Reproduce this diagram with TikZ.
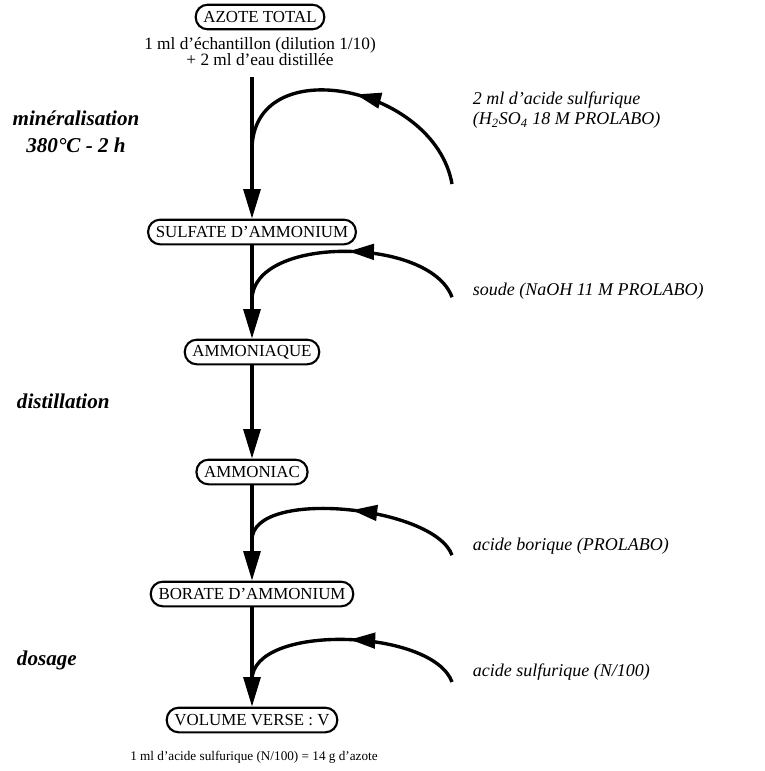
\documentclass[tikz,border=0pt]{standalone}
\usepackage{fontspec}
\setmainfont{Liberation Serif}
\usetikzlibrary{positioning, arrows.meta, decorations.markings}

\begin{document}
\begin{tikzpicture}[>={Triangle[length=21pt, width=12pt]},
        etat/.style={draw, line width=1.5pt, rounded corners=8.5pt, minimum height=17.5pt,
                     inner xsep=5.5pt, font=\fontsize{12}{14}\selectfont},
        flux/.style={->, line width=2.4pt},
        ajout/.style={line width=2.4pt, postaction={decorate},
                      decoration={markings, mark=at position 0.5 with {\arrow{Triangle[length=18pt, width=11pt]}}}},
        reactif/.style={anchor=west, align=left, font=\fontsize{12.8}{14.5}\selectfont\itshape},
        etape/.style={align=center, font=\fontsize{15}{19}\selectfont\bfseries\itshape},
        note/.style={align=center, font=\fontsize{12.3}{12}\selectfont}]
        \useasboundingbox (0, 0) rectangle (19.1, -19.275);

        \node[etat] (azote)  at (6.5, -0.425) {AZOTE TOTAL};
        \node[note] (echant) at (6.5, -1.29)
              {1 ml d'échantillon (dilution 1/10)\\+ 2 ml d'eau distillée};
        \node[etat] (sulf)   at (6.3, -5.8)   {SULFATE D'AMMONIUM};
        \node[etat] (aque)   at (6.3, -8.8)   {AMMONIAQUE};
        \node[etat] (ammc)   at (6.3, -11.8)  {AMMONIAC};
        \node[etat] (borate) at (6.3, -14.85) {BORATE D'AMMONIUM};
        \node[etat] (volume) at (6.3, -18.0)  {VOLUME VERSE : V};
        \node[note, font=\fontsize{9.4}{12}\selectfont] (equiv) at (6.35, -18.93)
              {1 ml d'acide sulfurique (N/100) = 14 g d'azote};

        % etapes
        \node[etape] (miner)  at (1.9, -3.3)   {minéralisation\\380°C - 2 h};
        \node[etape, anchor=west] (distil) at (0.3, -10.03) {distillation};
        \node[etape, anchor=west] (dosage) at (0.3, -16.5)  {dosage};

        % reactifs
        \node[reactif] (h2so4) at (11.7, -2.75)
              {2 ml d'acide sulfurique\\(H\textsubscript{2}SO\textsubscript{4} 18 M PROLABO)};
        \node[reactif] (soude)  at (11.7, -7.28)  {soude (NaOH 11 M PROLABO)};
        \node[reactif] (borique) at (11.7, -13.65) {acide borique (PROLABO)};
        \node[reactif] (titrant) at (11.7, -16.8)  {acide sulfurique (N/100)};

        \coordinate (s1) at (11.3, -4.6);
        \coordinate (j1) at (6.3, -3.75);
        \coordinate (s2) at (11.3, -7.43);
        \coordinate (j2) at (6.3, -7.5);
        \coordinate (s3) at (11.3, -13.88);
        \coordinate (j3) at (6.3, -13.5);
        \coordinate (s4) at (11.3, -17.05);
        \coordinate (j4) at (6.3, -17.0);

        \draw[flux] ([yshift=-4pt]echant.south -| sulf.north) -- (sulf.north);
        \draw[flux] (sulf)   -- (aque);
        \draw[flux] (aque)   -- (ammc);
        \draw[flux] (ammc)   -- (borate);
        \draw[flux] (borate) -- (volume);

        % apports de reactifs
        \draw[ajout] (s1) to[out=100, in=90, looseness=1.27] (j1);
        \draw[ajout] (s2) to[out=110, in=90, looseness=0.83] (j2);
        \draw[ajout] (s3) to[out=110, in=90, looseness=0.67] (j3);
        \draw[ajout] (s4) to[out=110, in=90, looseness=0.73] (j4);
    \end{tikzpicture}
\end{document}
